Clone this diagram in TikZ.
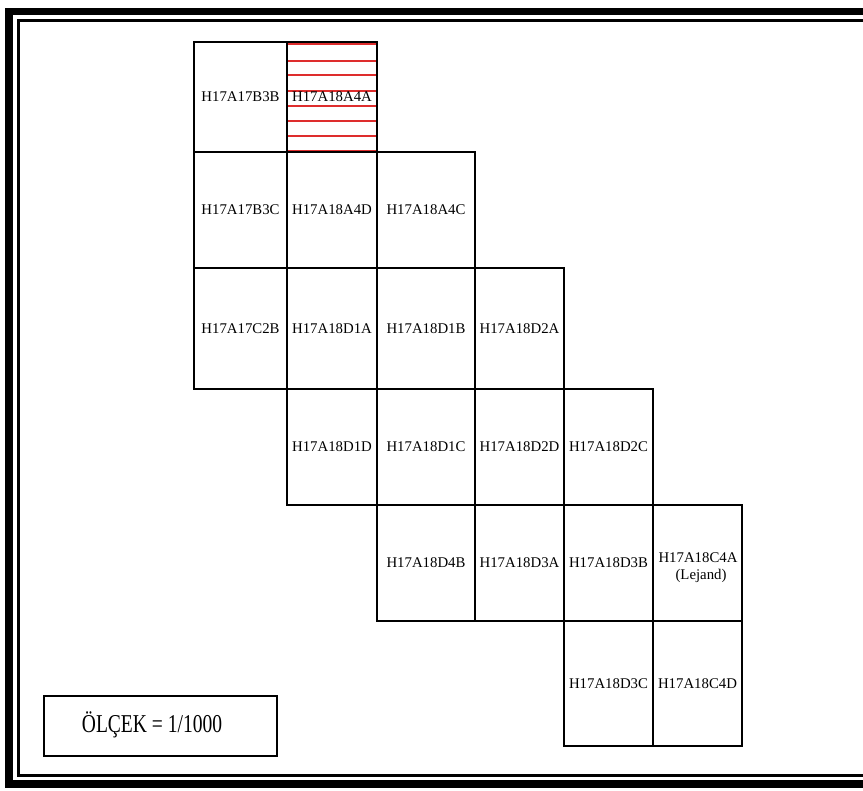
\documentclass[tikz,border=0pt]{standalone}
\usepackage{fontspec}
\setmainfont{Liberation Serif}
\newfontfamily\narrowserif[FakeStretch=0.76]{Liberation Serif}
\usepackage{tikz}
\definecolor{hatchred}{RGB}{222,45,45}
\tikzset{
  sheet/.style={inner sep=0pt,font=\fontsize{14.8}{17}\selectfont,align=center},
  cellline/.style={line width=1.3pt},
}

\begin{document}
\begin{tikzpicture}[x=1pt,y=-1pt]
\useasboundingbox (0,0) rectangle (863,791);
\clip (0,0) rectangle (863,791);
% frame (right side runs off the sheet)
\draw[line width=7.5pt] (9,11.5) rectangle (880,784);
\draw[line width=2.5pt] (18.5,20.5) rectangle (870,775.5);
% red hatching of the first sheet
\foreach \y in {44,61,75,91,106,121,136,151} \draw[hatchred,line width=1.8pt] (287,\y)--(377,\y);
% sheet index
\foreach \xa/\ya/\xb/\yb/\name in {
  194/42/287/152/H17A17B3B, 287/42/377/152/H17A18A4A,
  194/152/287/268/H17A17B3C, 287/152/377/268/H17A18A4D, 377/152/475/268/H17A18A4C,
  194/268/287/389/H17A17C2B, 287/268/377/389/H17A18D1A, 377/268/475/389/H17A18D1B, 475/268/564/389/H17A18D2A,
  287/389/377/505/H17A18D1D, 377/389/475/505/H17A18D1C, 475/389/564/505/H17A18D2D, 564/389/653/505/H17A18D2C,
  377/505/475/621/H17A18D4B, 475/505/564/621/H17A18D3A, 564/505/653/621/H17A18D3B,
  564/621/653/746/H17A18D3C, 653/621/742/746/H17A18C4D}
{
  \draw[cellline] (\xa,\ya) rectangle (\xb,\yb);
  \node[sheet] (\name) at ({(\xa+\xb)/2},{(\ya+\yb)/2}) {\name};
}
% legend sheet
\draw[cellline] (653,505) rectangle (742,621);
\node[sheet] (H17A18C4A) at (698,568) {H17A18C4A\\\hspace*{6pt}(Lejand)};
% scale
\node[draw,line width=1.5pt,minimum width=233pt,minimum height=60pt,inner sep=0pt] (scalebox) at (160.5,726) {};
\node[inner sep=0pt,font=\narrowserif\fontsize{25.7}{30}\selectfont] (scaletext) at (152,725) {ÖLÇEK = 1/1000};
\end{tikzpicture}
\end{document}
